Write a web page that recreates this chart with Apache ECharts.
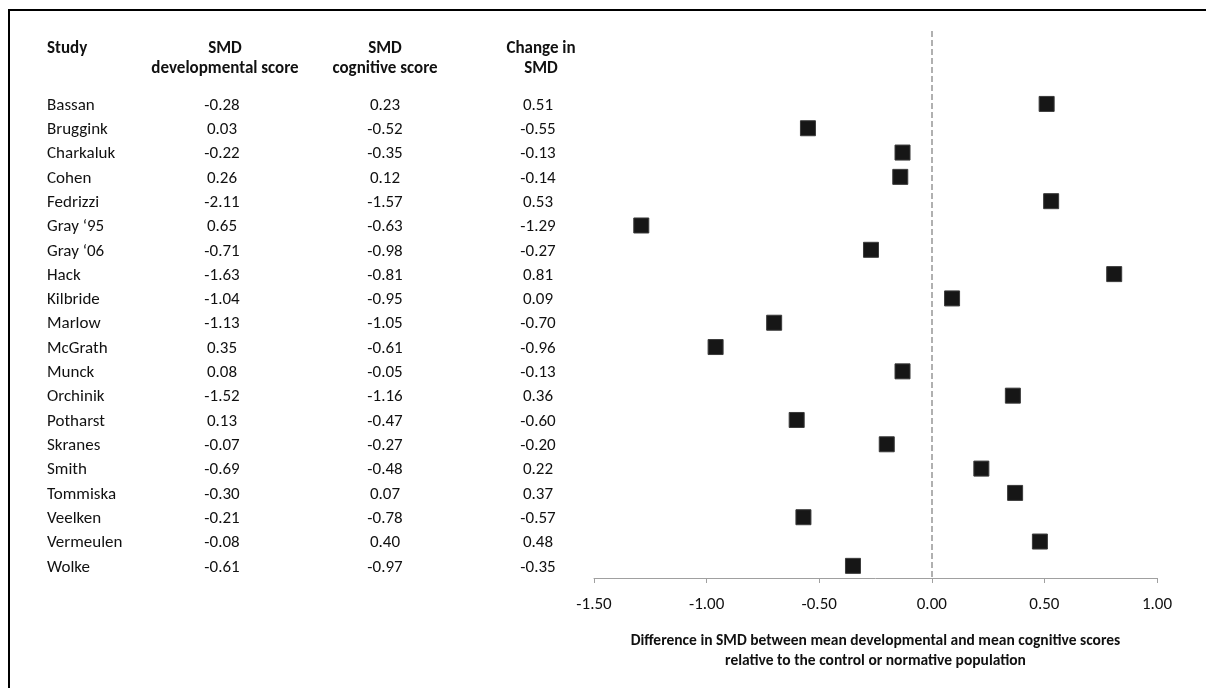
<!DOCTYPE html>
<html>
<head>
<meta charset="utf-8">
<script src="https://cdn.jsdelivr.net/npm/echarts@6/dist/echarts.min.js"></script>
<style>
html,body{margin:0;padding:0;background:#fff;}
#chart{width:1206px;height:688px;}
</style>
</head>
<body>
<div id="chart"></div>
<script>
const studies = ['Bassan','Bruggink','Charkaluk','Cohen','Fedrizzi','Gray \u201895','Gray \u201806','Hack','Kilbride','Marlow','McGrath','Munck','Orchinik','Potharst','Skranes','Smith','Tommiska','Veelken','Vermeulen','Wolke'];
const smdDevelopmental = [-0.28,0.03,-0.22,0.26,-2.11,0.65,-0.71,-1.63,-1.04,-1.13,0.35,0.08,-1.52,0.13,-0.07,-0.69,-0.30,-0.21,-0.08,-0.61];
const smdCognitive = [0.23,-0.52,-0.35,0.12,-1.57,-0.63,-0.98,-0.81,-0.95,-1.05,-0.61,-0.05,-1.16,-0.47,-0.27,-0.48,0.07,-0.78,0.40,-0.97];
const changeSMD = [0.51,-0.55,-0.13,-0.14,0.53,-1.29,-0.27,0.81,0.09,-0.70,-0.96,-0.13,0.36,-0.60,-0.20,0.22,0.37,-0.57,0.48,-0.35];
const xTicks = [-1.5,-1.0,-0.5,0.0,0.5,1.0];

const FONT = 'Carlito, Calibri, Lato, sans-serif';
const TXT = '#111';
const FS = 17;
const chart = echarts.init(document.getElementById('chart'), null, {renderer:'canvas'});

const GRID_LEFT = 594;
function colText(arr, fmt){
  return function(v, idx){
    const k = Math.round(v);
    if (Math.abs(v - k) < 1e-6 && k >= 0 && k < arr.length) return fmt ? fmt(arr[k]) : arr[k];
    return '';
  };
}
const f2 = v => v.toFixed(2);

// label axes share the row scale; shifted by a fraction of a row so text sits on the marker baseline
function labelAxis(anchorX, align, arr, fmt){
  return {
    type:'value', gridIndex:0, position:'left', inverse:true,
    min:-3, max:19.5, interval:1,
    offset: GRID_LEFT - anchorX,
    axisLine:{show:false}, axisTick:{show:false}, splitLine:{show:false},
    axisLabel:{show:true, margin:0, align:align, verticalAlign:'top', fontFamily:FONT, fontSize:FS, color:TXT,
      lineHeight:FS, padding:[-7,0,0,0],
      showMinLabel:true, showMaxLabel:true, formatter: colText(arr, fmt)}
  };
}

const hdr = (x, y, text, align) => ({type:'text', x:x, y:y,
  style:{text:text, font:'bold '+FS+'px '+FONT, fill:TXT, textAlign:align || 'center', textVerticalAlign:'middle'}});

const option = {
  animation:false,
  backgroundColor:'#fff',
  grid:[{left:GRID_LEFT, right:1206-1157, top:31, bottom:688-578, outerBoundsMode:'none', containLabel:false}],
  xAxis:[{
    type:'value', gridIndex:0, min:-1.5, max:1.0, interval:0.5,
    axisLine:{show:true, onZero:false, lineStyle:{color:'#a0a0a0', width:1}},
    axisTick:{show:true, length:5, lineStyle:{color:'#a0a0a0'}},
    splitLine:{show:false},
    axisLabel:{margin:18, fontFamily:FONT, fontSize:FS, color:TXT,
      formatter: v => { const t = xTicks.find(x => Math.abs(x - v) < 1e-9); return t === undefined ? '' : t.toFixed(2); }},
    name:'Difference in SMD between mean developmental and mean cognitive scores\nrelative to the control or normative population',
    nameLocation:'middle', nameGap:53,
    nameTextStyle:{fontFamily:FONT, fontSize:15.5, fontWeight:'bold', color:TXT, lineHeight:20}
  }],
  yAxis:[
    {type:'value', gridIndex:0, inverse:true, min:-3, max:19.5, interval:1, show:false},
    labelAxis(47, 'left', studies),
    labelAxis(222, 'center', smdDevelopmental, f2),
    labelAxis(385, 'center', smdCognitive, f2),
    labelAxis(538, 'center', changeSMD, f2)
  ],
  graphic:[
    {type:'rect', shape:{x:9, y:10, width:1400, height:900}, style:{fill:null, stroke:'#000', lineWidth:2}, silent:true},
    hdr(47, 49, 'Study', 'left'),
    hdr(225, 49, 'SMD'),
    hdr(225, 69, 'developmental score'),
    hdr(385, 49, 'SMD'),
    hdr(385, 69, 'cognitive score'),
    hdr(541, 49, 'Change in'),
    hdr(541, 69, 'SMD')
  ],
  series:[{
    type:'scatter', xAxisIndex:0, yAxisIndex:0,
    symbol:'rect', symbolSize:15,
    itemStyle:{color:'#161616', borderColor:'#3a3a3a', borderWidth:1, opacity:1},
    data: changeSMD.map((v,i) => [v, i]),
    markLine:{
      silent:true, symbol:['none','none'], label:{show:false},
      lineStyle:{color:'#b0b0b0', type:[6,3], width:2},
      data:[{xAxis:0}]
    }
  }]
};
chart.setOption(option);
</script>
</body>
</html>
